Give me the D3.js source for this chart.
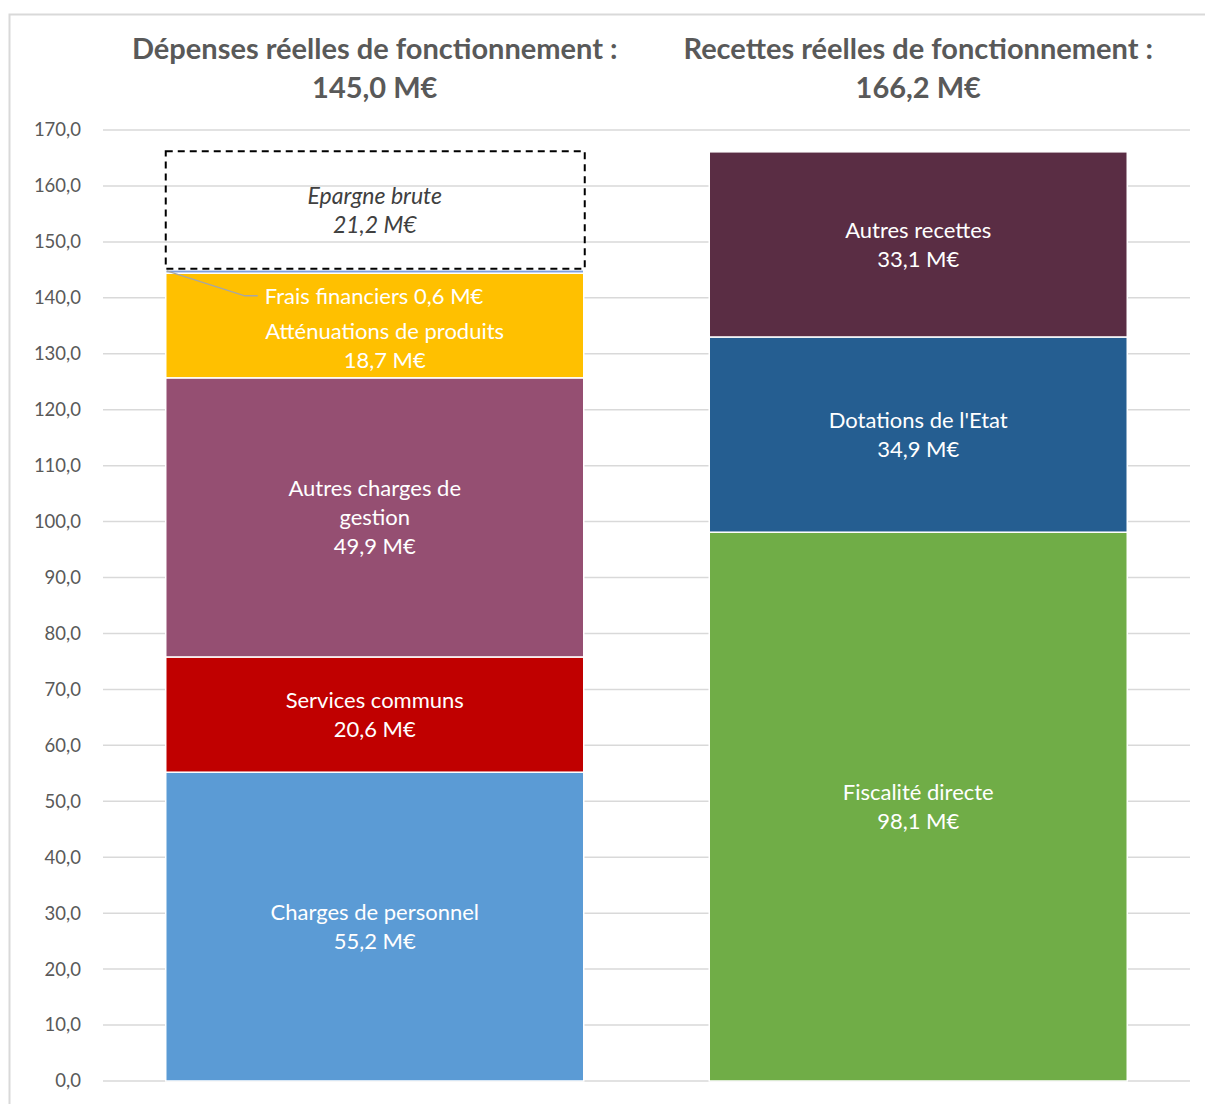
<!DOCTYPE html>
<html>
<head>
<meta charset="utf-8">
<script src="https://cdn.jsdelivr.net/npm/d3@7"></script>
<style>
  body { margin: 0; background: #fff; }
  svg { display: block; font-family: Lato, "Open Sans", sans-serif; }
</style>
</head>
<body>
<script>
// data
var categories = ["Dépenses réelles de fonctionnement :", "Recettes réelles de fonctionnement :"];
var totals = ["145,0 M€", "166,2 M€"];

var depensesLabels = ["Charges de personnel", "Services communs", "Autres charges de gestion", "Atténuations de produits", "Frais financiers", "Epargne brute"];
var depensesValues = [55.2, 20.6, 49.9, 18.7, 0.6, 21.2];
var depensesColors = ["#5b9bd5", "#c00000", "#954f72", "#ffc000", "#7f9fdc", "none"];

var recettesLabels = ["Fiscalité directe", "Dotations de l'Etat", "Autres recettes"];
var recettesValues = [98.1, 34.9, 33.1];
var recettesColors = ["#70ad47", "#255e91", "#5a2d44"];

var yTicks = d3.range(0, 171, 10);

var W = 1205, H = 1104;
var svg = d3.select("body").append("svg").attr("width", W).attr("height", H);

// chart border
svg.append("rect")
    .attr("x", 9.5).attr("y", 14.5)
    .attr("width", W + 10).attr("height", H + 10)
    .attr("fill", "none").attr("stroke", "#d9d9d9").attr("stroke-width", 2);

var x = d3.scaleBand().domain(categories).range([103, 1190]).paddingInner(0.2309).paddingOuter(0.2309 / 2);
var y = d3.scaleLinear().domain([0, 170]).range([1081, 130]);

// gridlines
svg.append("g").selectAll("line")
    .data(yTicks)
    .enter()
    .append("line")
    .attr("x1", 103).attr("x2", 1190)
    .attr("y1", function (d) { return y(d); })
    .attr("y2", function (d) { return y(d); })
    .attr("stroke", "#d9d9d9").attr("stroke-width", 1.5);

// y axis labels
var yAxis = d3.axisLeft(y).tickValues(yTicks).tickSize(0).tickPadding(0)
    .tickFormat(function (d) { return d3.format(".1f")(d).replace(".", ","); });
var gy = svg.append("g").attr("transform", "translate(81,0)").call(yAxis);
gy.select(".domain").remove();
gy.selectAll("text").attr("font-size", 18.5).attr("fill", "#595959").attr("font-family", "Lato, sans-serif");

// build stacks
function stack(labels, values, colors, cat) {
    var acc = 0;
    return values.map(function (v, i) {
        var s = { cat: cat, label: labels[i], value: v, color: colors[i], y0: acc, y1: acc + v };
        acc += v;
        return s;
    });
}
var depenses = stack(depensesLabels, depensesValues, depensesColors, categories[0]);
var recettes = stack(recettesLabels, recettesValues, recettesColors, categories[1]);
var segments = depenses.concat(recettes);

var fmt = function (v) { return d3.format(".1f")(v).replace(".", ",") + " M€"; };

// bars
svg.append("g").selectAll("rect")
    .data(segments.filter(function (d) { return d.color !== "none"; }))
    .enter()
    .append("rect")
    .attr("x", function (d) { return x(d.cat); })
    .attr("width", x.bandwidth())
    .attr("y", function (d) { return y(d.y1); })
    .attr("height", function (d) { return y(d.y0) - y(d.y1); })
    .attr("fill", function (d) { return d.color; })
    .attr("stroke", "#fff").attr("stroke-width", 1.5);

// epargne brute dashed box
var ep = depenses[5];
svg.append("rect")
    .attr("x", x(ep.cat)).attr("width", x.bandwidth() + 1)
    .attr("y", y(ep.y1)).attr("height", y(ep.y0) - y(ep.y1) - 1)
    .attr("fill", "none").attr("stroke", "#000").attr("stroke-width", 2)
    .attr("stroke-dasharray", "7,5");

// segment labels
var wraps = { "Autres charges de gestion": ["Autres charges de", "gestion"] };
var labelled = segments.filter(function (d) { return d.label !== "Frais financiers"; });
var lineH = 29;
labelled.forEach(function (d) {
    var lines = (wraps[d.label] || [d.label]).concat([fmt(d.value)]);
    var cx = x(d.cat) + x.bandwidth() / 2;
    var cy = (y(d.y0) + y(d.y1)) / 2;
    if (d.label === "Atténuations de produits") { cx += 10; cy += 20; }
    var italic = d.label === "Epargne brute";
    var t = svg.append("text")
        .attr("text-anchor", "middle")
        .attr("font-size", italic ? 23 : 22)
        .attr("font-style", italic ? "italic" : "normal")
        .attr("fill", italic ? "#404040" : "#fff");
    lines.forEach(function (l, i) {
        t.append("tspan")
            .attr("x", cx)
            .attr("y", cy + (i - (lines.length - 1) / 2) * lineH)
            .attr("dy", "0.35em")
            .text(l);
    });
});

// frais financiers callout
var ff = depenses[4];
var ffy = y(ff.y1) + 26;
svg.append("polyline")
    .attr("points", [[x(ff.cat) + 1, y(ff.y1) + 1], [x(ff.cat) + 79, ffy], [x(ff.cat) + 92, ffy]].join(" "))
    .attr("fill", "none").attr("stroke", "#a6a6a6").attr("stroke-width", 1.5);
svg.append("text")
    .attr("x", x(ff.cat) + 99).attr("y", ffy).attr("dy", "0.35em")
    .attr("font-size", 22).attr("fill", "#fff")
    .text(ff.label + " " + fmt(ff.value));

// category titles
categories.forEach(function (c, i) {
    var t = svg.append("text")
        .attr("text-anchor", "middle")
        .attr("font-size", 29).attr("font-weight", "bold").attr("fill", "#595959");
    t.append("tspan").attr("x", x(c) + x.bandwidth() / 2).attr("y", 49).attr("dy", "0.35em").text(c);
    t.append("tspan").attr("x", x(c) + x.bandwidth() / 2).attr("y", 88).attr("dy", "0.35em").text(totals[i]);
});
</script>
</body>
</html>
